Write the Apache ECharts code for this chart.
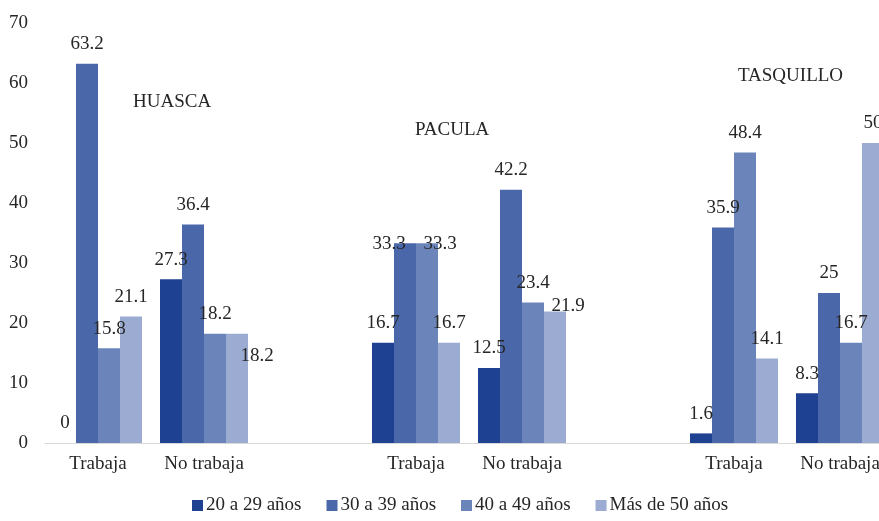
<!DOCTYPE html>
<html>
<head>
<meta charset="utf-8">
<script src="https://cdn.jsdelivr.net/npm/echarts@6/dist/echarts.min.js"></script>
<style>
html,body{margin:0;padding:0;background:#fff;overflow:hidden;width:879px;height:521px;}
#chart{width:893px;height:521px;}
</style>
</head>
<body>
<div id="chart"></div>
<script>
// ---- data ----
var categories = ['Trabaja', 'No trabaja', '', 'Trabaja', 'No trabaja', '', 'Trabaja', 'No trabaja'];
var seriesNames = ['20 a 29 años', '30 a 39 años', '40 a 49 años', 'Más de 50 años'];
var s20a29 = [0, 27.3, '-', 16.7, 12.5, '-', 1.6, 8.3];
var s30a39 = [63.2, 36.4, '-', 33.3, 42.2, '-', 35.9, 25];
var s40a49 = [15.8, 18.2, '-', 33.3, 23.4, '-', 48.4, 16.7];
var s50mas = [21.1, 18.2, '-', 16.7, 21.9, '-', 14.1, 50];
var yTicks = [0, 10, 20, 30, 40, 50, 60, 70];
var groupNames = ['HUASCA', 'PACULA', 'TASQUILLO'];

// ---- styling ----
var colors = ['#1F4192', '#4A67AA', '#6B85BA', '#9BABD1'];
var FONT = '"Liberation Serif", "DejaVu Serif", serif';
var TXT = '#262626';
// label offsets (style only) keyed by seriesIndex-categoryIndex
var labelOffsets = {
  '3-1': [20, 42],
  '1-3': [-16, 20],
  '2-3': [13, 20],
  '3-4': [13, 14]
};

var allData = [s20a29, s30a39, s40a49, s50mas];
var series = allData.map(function (arr, si) {
  return {
    name: seriesNames[si],
    type: 'bar',
    barWidth: 22,
    barGap: '0%',
    itemStyle: { color: colors[si] },
    label: {
      show: true,
      position: 'top',
      distance: 10,
      fontFamily: FONT,
      fontSize: 19,
      color: TXT
    },
    data: arr.map(function (v, ci) {
      var key = si + '-' + ci;
      if (labelOffsets[key]) {
        return { value: v, label: { offset: labelOffsets[key] } };
      }
      return v;
    })
  };
});

var chart = echarts.init(document.getElementById('chart'));
chart.setOption({
  backgroundColor: '#fff',
  animation: false,
  grid: { left: 45, right: 0, top: 23, bottom: 78, containLabel: false },
  xAxis: {
    type: 'category',
    data: categories,
    axisLine: { lineStyle: { color: '#D9D9D9', width: 1 } },
    axisTick: { show: false },
    axisLabel: { fontFamily: FONT, fontSize: 19, color: TXT, margin: 12, interval: 0 }
  },
  yAxis: {
    type: 'value',
    min: yTicks[0],
    max: yTicks[yTicks.length - 1],
    interval: yTicks[1] - yTicks[0],
    axisLine: { show: false },
    axisTick: { show: false },
    splitLine: { show: false },
    axisLabel: { fontFamily: FONT, fontSize: 19, color: TXT, margin: 17 }
  },
  legend: {
    data: seriesNames,
    left: 187,
    bottom: 1,
    itemWidth: 11,
    itemHeight: 11,
    itemGap: 25,
    icon: 'rect',
    textStyle: { fontFamily: FONT, fontSize: 19, color: TXT, padding: [0, 0, 0, -2] }
  },
  graphic: [
    { type: 'text', left: 133, top: 93, style: { text: groupNames[0], font: '19px ' + FONT, fill: TXT } },
    { type: 'text', left: 415, top: 121, style: { text: groupNames[1], font: '19px ' + FONT, fill: TXT } },
    { type: 'text', left: 738, top: 67, style: { text: groupNames[2], font: '19px ' + FONT, fill: TXT } }
  ],
  series: series
});
</script>
</body>
</html>
